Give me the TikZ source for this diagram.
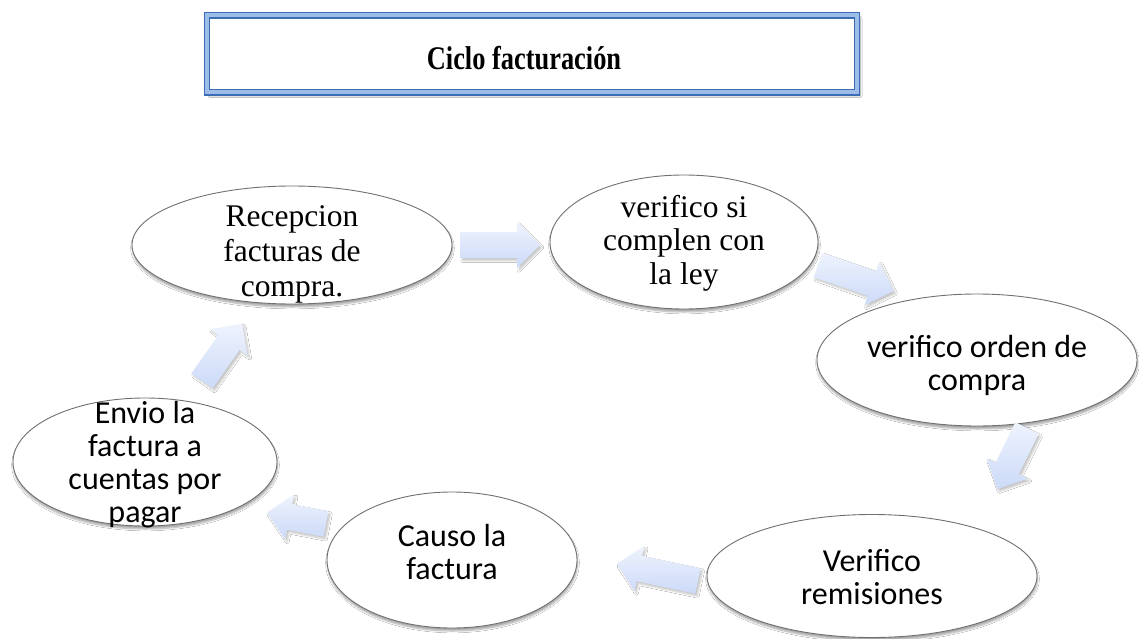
\documentclass[tikz,border=0pt]{standalone}
\usepackage{fontspec}
\setmainfont{Liberation Serif}
\newfontfamily\calib{Carlito}
\usetikzlibrary{shapes.geometric,shadows.blur}
\definecolor{ellgray}{HTML}{707070}
\definecolor{arrL}{HTML}{EEF3FD}
\definecolor{arrD}{HTML}{CCDAF8}
\definecolor{bordD}{HTML}{3C6DB4}
\definecolor{bordL}{HTML}{9DBDE8}
\begin{document}
\begin{tikzpicture}[x=1pt,y=-1pt,
  ell/.style={ellipse, draw=ellgray, line width=0.9pt, fill=white, inner sep=0pt,
    blur shadow={shadow blur steps=6, shadow xshift=0.5pt, shadow yshift=-3pt,
      shadow blur radius=1.8pt, shadow opacity=35}},
  serif/.style={font=\fontsize{31.5}{35}\selectfont, align=center, inner sep=0pt},
  sans/.style={font=\calib\fontsize{32}{33}\selectfont, align=center, inner sep=0pt},
  arrowstyle/.style={top color=arrL, bottom color=arrD, draw=none,
    blur shadow={shadow blur steps=5, shadow xshift=2pt, shadow yshift=-2.5pt,
      shadow blur radius=1.8pt, shadow opacity=22}},
  pics/blockarrow/.style={code={
    \path[arrowstyle] (0,-13) -- ({#1-23},-13) -- ({#1-23},-23) -- (#1,0)
      -- ({#1-23},23) -- ({#1-23},13) -- (0,13) -- cycle;
  }}
]
\useasboundingbox (0,0) rectangle (1139,639);
\fill[white] (0,0) rectangle (1139,639);

% title box
\node[draw=bordD, line width=1.3pt, double=bordL, double distance=4pt,
  minimum width=650pt, minimum height=77pt, inner sep=0pt, fill=white,
  blur shadow={shadow blur steps=6, shadow xshift=3pt, shadow yshift=-3pt,
    shadow blur radius=2pt, shadow opacity=45}]
  (titlebox) at (532,54) {};
\node[font=\bfseries\fontsize{33}{36}\selectfont, inner sep=0pt, anchor=base] (title) at (524,70)
  {\scalebox{0.8}[1]{Ciclo facturación}};

% ellipses
\node[ell, minimum width=320pt, minimum height=118pt] (e1) at (292,245) {};
\node[serif] (t1) at ([yshift=-9pt]e1.center) {Recepcion\\facturas de\\compra.};

\node[ell, minimum width=268pt, minimum height=134pt] (e2) at (684,242) {};
\node[serif, font=\fontsize{31.5}{33.5}\selectfont] (t2) at ([yshift=-1pt]e2.center) {verifico si\\complen con\\la ley};

\node[ell, minimum width=320pt, minimum height=132pt] (e3) at (977,360) {};
\node[sans] (t3) at ([yshift=-5pt]e3.center) {verifico orden de\\compra};

\node[ell, minimum width=330pt, minimum height=123pt] (e4) at (872,576) {};
\node[sans] (t4) at ([yshift=-1pt]e4.center) {Verifico\\remisiones};

\node[ell, minimum width=250pt, minimum height=136pt] (e5) at (452,560) {};
\node[sans] (t5) at ([yshift=8pt]e5.center) {Causo la\\factura};

\node[ell, minimum width=264pt, minimum height=128pt] (e6) at (145,462) {};
\node[sans] (t6) at ([yshift=-3pt]e6.center) {Envio la\\factura a\\cuentas por\\pagar};

% block arrows
\pic[rotate=0] (a1) at (460,245) {blockarrow=80};
\pic[rotate=-19] (a2) at (818,265) {blockarrow=80};
\pic[rotate=-116] (a3) at (1027,428) {blockarrow=68};
\pic[rotate=168] (a4) at (698,581) {blockarrow=83};
\pic[rotate=169] (a5) at (326,524) {blockarrow=60};
\pic[rotate=55] (a6) at (202,381) {blockarrow=70};
\end{tikzpicture}
\end{document}
